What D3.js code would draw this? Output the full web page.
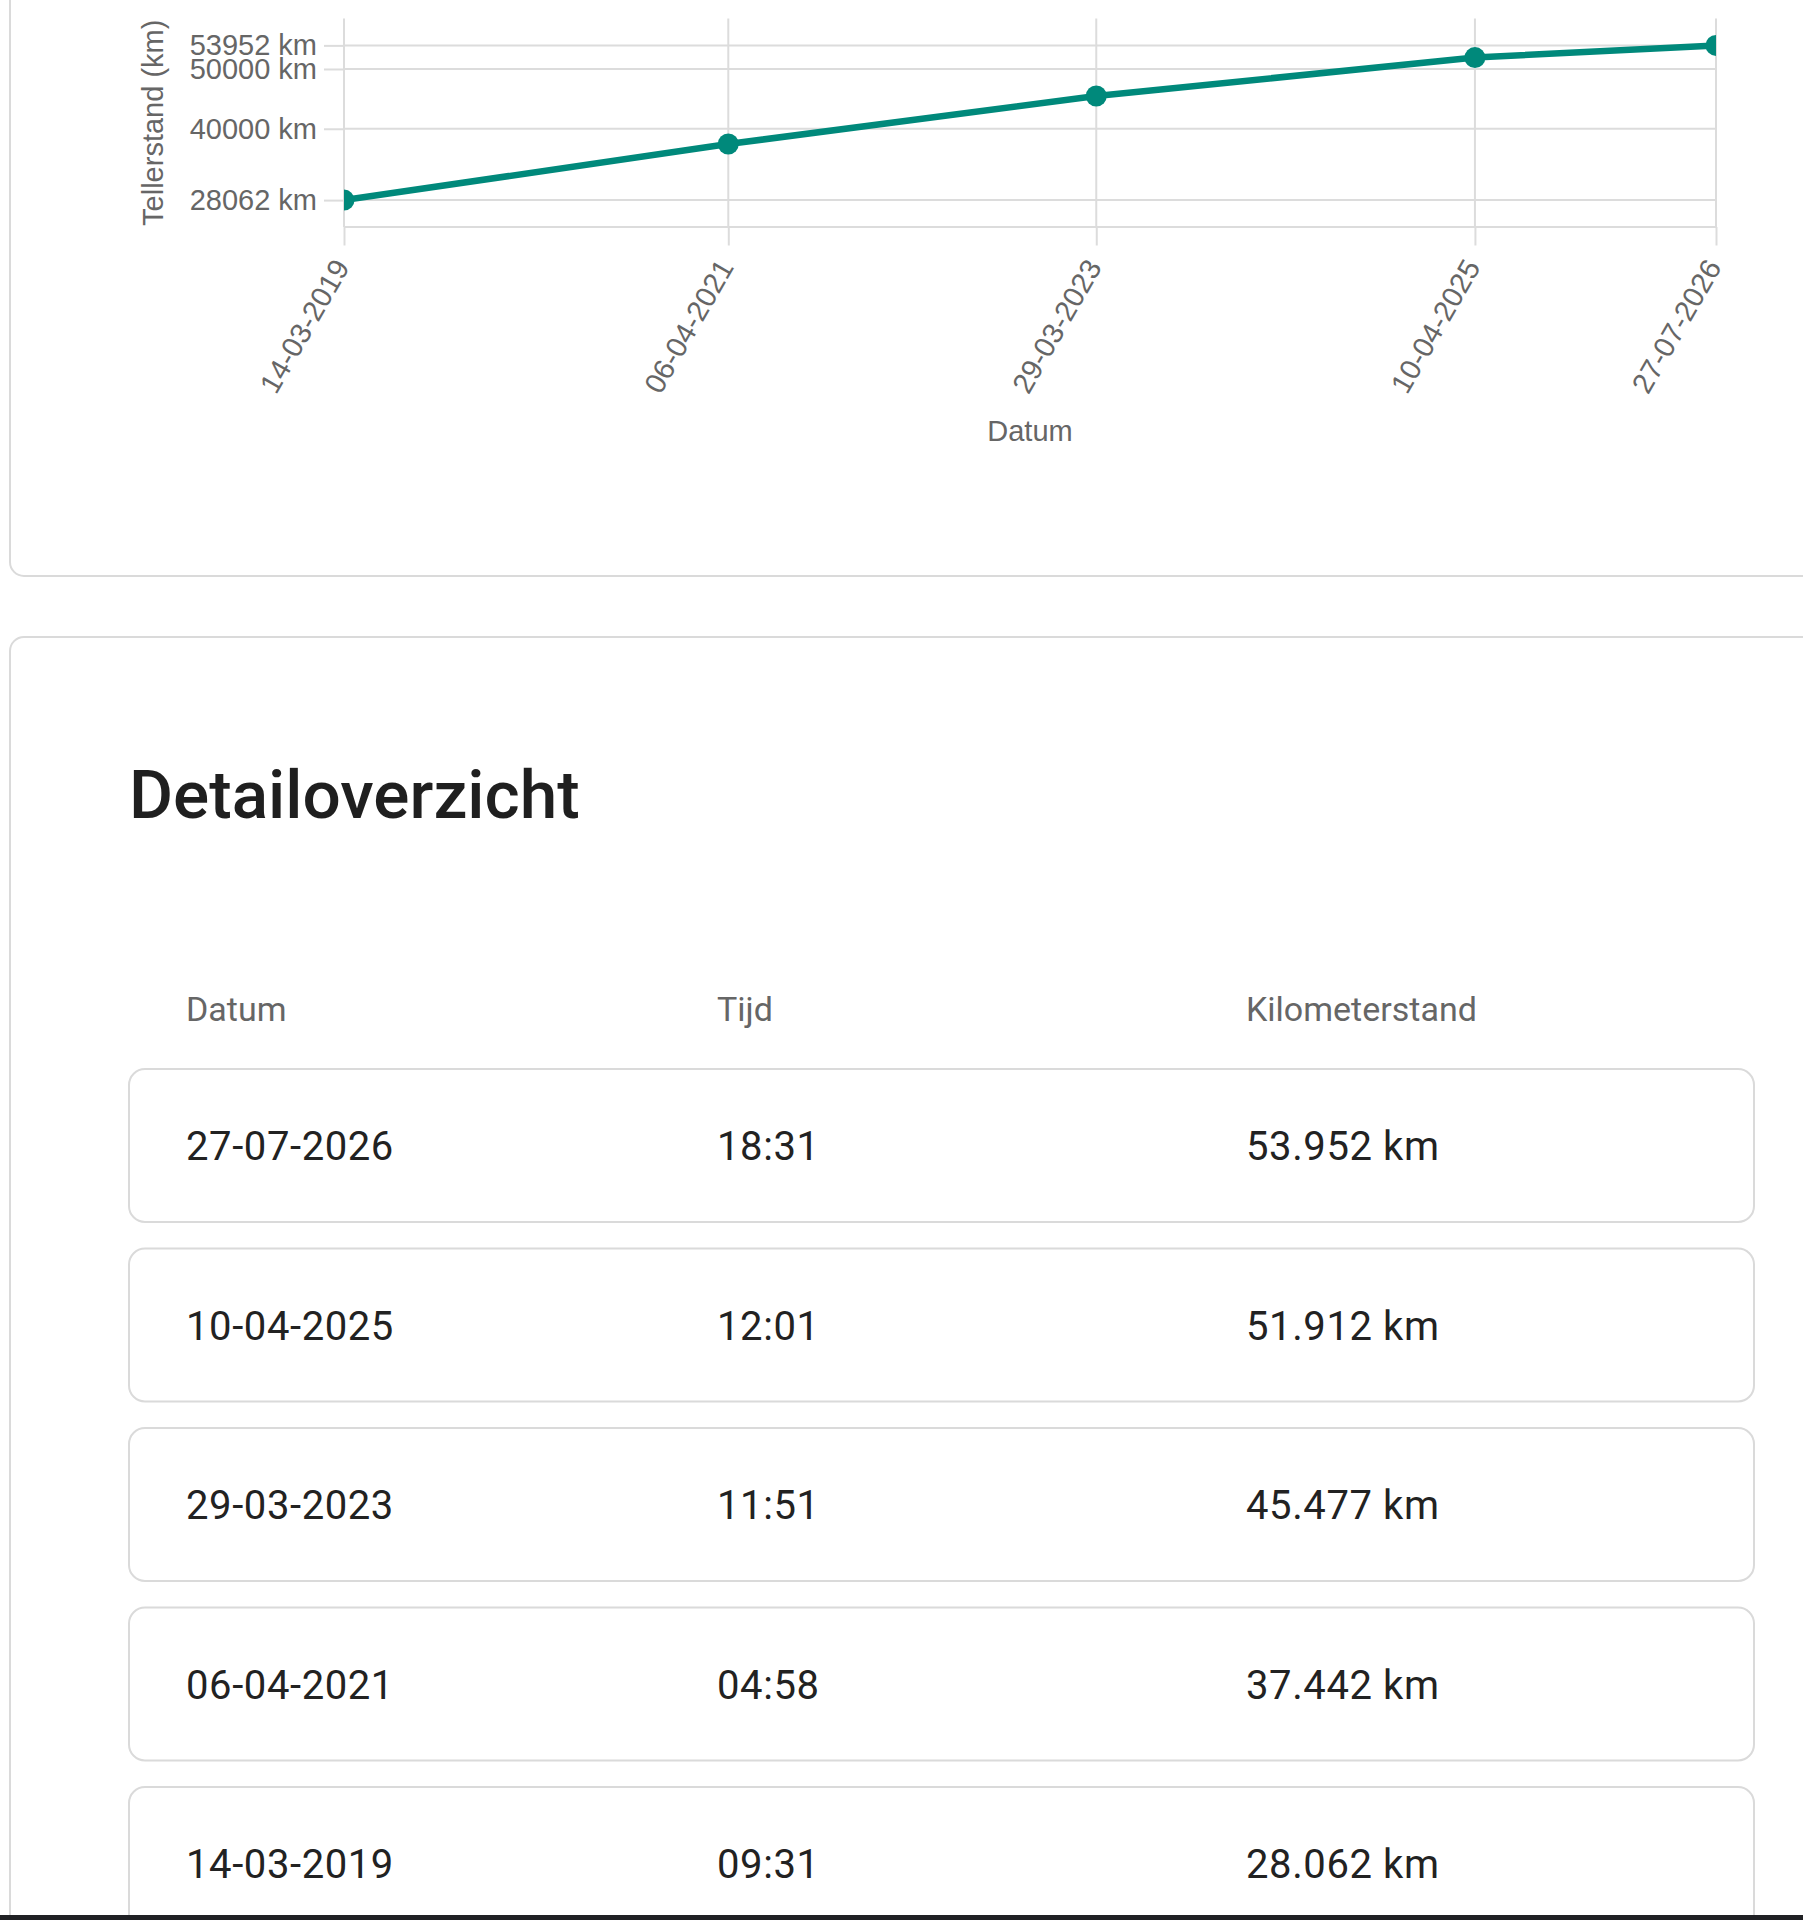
<!DOCTYPE html>
<html>
<head>
<meta charset="utf-8">
<script src="https://cdn.jsdelivr.net/npm/d3@7"></script>
<style>
  html, body { margin: 0; padding: 0; background: #fff; overflow: hidden; }
</style>
</head>
<body>
<div id="vis"></div>
<script>
// readings (odometer) - oldest first
const dates = ['14-03-2019', '06-04-2021', '29-03-2023', '10-04-2025', '27-07-2026'];
const times = ['09:31', '04:58', '11:51', '12:01', '18:31'];
const km = [28062, 37442, 45477, 51912, 53952];
const yTicks = [28062, 40000, 50000, 53952];

const width = 1803;
const height = 1920;
const margin = { top: 18.5, left: 344, right: 87, bottom: 1693 }; // plot area of the chart card
const teal = '#00897b';
const grid = '#dcdcdc';
const axisFont = '"Liberation Sans", Arial, sans-serif';
const tableFont = 'Roboto, "Noto Sans", sans-serif';

const parse = d3.timeParse('%d-%m-%Y');
const points = dates.map((d, i) => ({ date: parse(d), label: d, km: km[i] }));

const svg = d3.select('#vis')
    .append('svg')
    .attr('width', width)
    .attr('height', height);

// cards
svg.append('rect')
    .attr('x', 10).attr('y', -40)
    .attr('width', 1850).attr('height', 616)
    .attr('rx', 14)
    .attr('fill', '#fff')
    .attr('stroke', '#dadada')
    .attr('stroke-width', 2);

svg.append('rect')
    .attr('x', 10).attr('y', 637)
    .attr('width', 1850).attr('height', 1400)
    .attr('rx', 14)
    .attr('fill', '#fff')
    .attr('stroke', '#dadada')
    .attr('stroke-width', 2);

// ---- line chart ----
const plotBottom = height - margin.bottom;

const x = d3.scaleTime()
    .domain(d3.extent(points, d => d.date))
    .range([margin.left, width - margin.right]);

const y = d3.scaleLinear()
    .domain([23560, 58450])
    .range([plotBottom, margin.top]);

// points and line get cut at the left/right edge of the plot, like the original
svg.append('clipPath')
    .attr('id', 'plot-clip')
    .append('rect')
    .attr('x', margin.left)
    .attr('y', 0)
    .attr('width', width - margin.right - margin.left)
    .attr('height', plotBottom);

// horizontal grid
svg.append('g')
    .selectAll('line')
    .data(yTicks)
    .join('line')
    .attr('x1', margin.left)
    .attr('x2', width - margin.right)
    .attr('y1', d => y(d))
    .attr('y2', d => y(d))
    .attr('stroke', grid)
    .attr('stroke-width', 2);

// bottom border of the plot
svg.append('line')
    .attr('x1', margin.left)
    .attr('x2', width - margin.right)
    .attr('y1', plotBottom)
    .attr('y2', plotBottom)
    .attr('stroke', grid)
    .attr('stroke-width', 2);

// vertical grid
svg.append('g')
    .selectAll('line')
    .data(points)
    .join('line')
    .attr('x1', d => x(d.date))
    .attr('x2', d => x(d.date))
    .attr('y1', margin.top)
    .attr('y2', plotBottom)
    .attr('stroke', grid)
    .attr('stroke-width', 2);

const yAxis = svg.append('g')
    .attr('transform', `translate(${margin.left}, 0)`)
    .call(d3.axisLeft(y).tickValues(yTicks).tickFormat(d => `${d} km`).tickSize(20).tickPadding(7));

const xAxis = svg.append('g')
    .attr('transform', `translate(0, ${plotBottom})`)
    .call(d3.axisBottom(x).tickValues(points.map(d => d.date)).tickFormat(d3.timeFormat('%d-%m-%Y')).tickSize(18.5));

[yAxis, xAxis].forEach(a => {
    a.select('.domain').remove();
    a.selectAll('.tick line').attr('stroke', grid).attr('stroke-width', 2);
    a.selectAll('.tick text')
        .attr('fill', '#666')
        .attr('font-family', axisFont)
        .attr('font-size', '29px');
});

xAxis.selectAll('.tick text')
    .attr('text-anchor', 'end')
    .attr('dy', '0.35em')
    .attr('y', 0)
    .attr('transform', 'translate(-3, 35) rotate(-60)');

// axis titles
svg.append('text')
    .attr('transform', `translate(153, ${(margin.top + plotBottom) / 2}) rotate(-90)`)
    .attr('text-anchor', 'middle')
    .attr('dy', '0.35em')
    .attr('fill', '#666')
    .attr('font-family', axisFont)
    .attr('font-size', '29px')
    .text('Tellerstand (km)');

svg.append('text')
    .attr('x', (margin.left + width - margin.right) / 2)
    .attr('y', 441)
    .attr('text-anchor', 'middle')
    .attr('fill', '#666')
    .attr('font-family', axisFont)
    .attr('font-size', '29px')
    .text('Datum');

const line = d3.line()
    .x(d => x(d.date))
    .y(d => y(d.km));

const marks = svg.append('g')
    .attr('clip-path', 'url(#plot-clip)');

marks.append('path')
    .datum(points)
    .attr('d', line)
    .attr('fill', 'none')
    .attr('stroke', teal)
    .attr('stroke-width', 6.5)
    .attr('stroke-linejoin', 'round');

marks.selectAll('circle')
    .data(points)
    .join('circle')
    .attr('cx', d => x(d.date))
    .attr('cy', d => y(d.km))
    .attr('r', 10.5)
    .attr('fill', teal);

// ---- detail table ----
svg.append('text')
    .attr('x', 129)
    .attr('y', 818)
    .attr('fill', '#1f1f1f')
    .attr('font-family', tableFont)
    .attr('font-weight', 500)
    .attr('font-size', '67.5px')
    .text('Detailoverzicht');

const columns = [
    { title: 'Datum', key: 'date', x: 186 },
    { title: 'Tijd', key: 'time', x: 717 },
    { title: 'Kilometerstand', key: 'km', x: 1246 }
];

svg.append('g')
    .selectAll('text')
    .data(columns)
    .join('text')
    .attr('x', d => d.x)
    .attr('y', 1021)
    .attr('fill', '#666')
    .attr('font-family', tableFont)
    .attr('font-size', '34px')
    .text(d => d.title);

const nl = d3.formatLocale({ decimal: ',', thousands: '.', grouping: [3], currency: ['€', ''] });
const kmFmt = nl.format(',');

const rows = d3.range(dates.length).reverse().map(i => ({
    date: dates[i], time: times[i], km: `${kmFmt(km[i])} km`
}));

const rowTop = d3.scaleLinear().domain([0, 1]).range([1069, 1248.5]);
const rowH = 153;

const rowG = svg.append('g')
    .selectAll('g')
    .data(rows)
    .join('g')
    .attr('transform', (d, i) => `translate(0, ${rowTop(i)})`);

rowG.append('rect')
    .attr('x', 129)
    .attr('width', 1754 - 129)
    .attr('height', rowH)
    .attr('rx', 16)
    .attr('fill', '#fff')
    .attr('stroke', '#dadada')
    .attr('stroke-width', 2);

columns.forEach(c => {
    rowG.append('text')
        .attr('x', c.x)
        .attr('y', rowH / 2 + 14.5)
        .attr('fill', '#222')
        .attr('font-family', tableFont)
        .attr('font-size', '40px')
        .attr('letter-spacing', '0.6px')
        .text(d => d[c.key]);
});

// browser frame edge at the very bottom
svg.append('rect')
    .attr('x', 0).attr('y', height - 5)
    .attr('width', width).attr('height', 5)
    .attr('fill', '#202124');
</script>
</body>
</html>
